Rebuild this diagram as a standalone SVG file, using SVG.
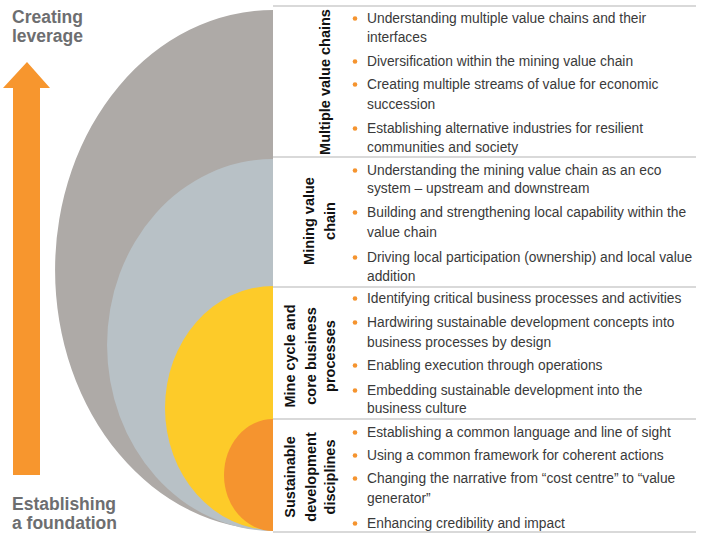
<svg xmlns="http://www.w3.org/2000/svg" width="704" height="533" viewBox="0 0 704 533">
<style>
.side{font-family:"Liberation Sans",Arial,sans-serif;font-weight:bold;font-size:17.5px;fill:#6d6e70}
.lab{font-family:"Liberation Sans",Arial,sans-serif;font-weight:bold;font-size:14.5px;fill:#111;text-anchor:middle}
.b{font-family:"Liberation Sans",Arial,sans-serif;font-size:13.8px;fill:#3a3a3a}
.dot{fill:#f5942f}
.sep{stroke:#d9d9d9;stroke-width:2;fill:none}
</style>
<rect width="704" height="533" fill="#ffffff"/>
<g id="arrow">
<polygon points="27,62 50,88 40,88 40,475 13,475 13,88 3,88" fill="#f7962e"/>
<text class="side" x="12" y="23">Creating</text>
<text class="side" x="12" y="42">leverage</text>
<text class="side" x="12" y="510">Establishing</text>
<text class="side" x="12" y="529">a foundation</text>
</g>
<g id="shapes">
<path d="M273 10 A218 260 0 0 0 273 530 Z" fill="#aeaaa7"/>
<path d="M273 159 A166 186 0 0 0 273 531 Z" fill="#b8c1c6"/>
<path d="M273 286 A108 122 0 0 0 273 530 Z" fill="#fdcb29"/>
<path d="M273 419 A49 56 0 0 0 273 531 Z" fill="#f5942f"/>
</g>
<g id="connectors">
<line class="sep" x1="273" y1="6" x2="696" y2="6"/>
<line class="sep" x1="273" y1="157" x2="696" y2="157"/>
<line class="sep" x1="273" y1="287" x2="696" y2="287"/>
<line class="sep" x1="273" y1="419" x2="696" y2="419"/>
<line class="sep" x1="273" y1="532" x2="696" y2="532"/>
</g>
<g id="node-multiple">
<text class="lab" transform="translate(330,82) rotate(-90)">Multiple value chains</text>
<circle class="dot" cx="355" cy="18.5" r="2.3"/>
<text class="b" x="367" y="23">Understanding multiple value chains and their</text>
<text class="b" x="367" y="42">interfaces</text>
<circle class="dot" cx="355" cy="61.5" r="2.3"/>
<text class="b" x="367" y="66">Diversification within the mining value chain</text>
<circle class="dot" cx="355" cy="84.5" r="2.3"/>
<text class="b" x="367" y="89">Creating multiple streams of value for economic</text>
<text class="b" x="367" y="109">succession</text>
<circle class="dot" cx="355" cy="128.5" r="2.3"/>
<text class="b" x="367" y="133">Establishing alternative industries for resilient</text>
<text class="b" x="367" y="152">communities and society</text>
</g>
<g id="node-mining">
<text class="lab" transform="translate(314,221) rotate(-90)">Mining value</text>
<text class="lab" transform="translate(335,221) rotate(-90)">chain</text>
<circle class="dot" cx="355" cy="170.5" r="2.3"/>
<text class="b" x="367" y="175">Understanding the mining value chain as an eco</text>
<text class="b" x="367" y="193">system – upstream and downstream</text>
<circle class="dot" cx="355" cy="212.5" r="2.3"/>
<text class="b" x="367" y="217">Building and strengthening local capability within the</text>
<text class="b" x="367" y="237">value chain</text>
<circle class="dot" cx="355" cy="257.5" r="2.3"/>
<text class="b" x="367" y="262">Driving local participation (ownership) and local value</text>
<text class="b" x="367" y="281">addition</text>
</g>
<g id="node-mine-cycle">
<text class="lab" transform="translate(295,356) rotate(-90)">Mine cycle and</text>
<text class="lab" transform="translate(316,356) rotate(-90)">core business</text>
<text class="lab" transform="translate(335,356) rotate(-90)">processes</text>
<circle class="dot" cx="355" cy="298.5" r="2.3"/>
<text class="b" x="367" y="303">Identifying critical business processes and activities</text>
<circle class="dot" cx="355" cy="322.5" r="2.3"/>
<text class="b" x="367" y="327">Hardwiring sustainable development concepts into</text>
<text class="b" x="367" y="347">business processes by design</text>
<circle class="dot" cx="355" cy="365.5" r="2.3"/>
<text class="b" x="367" y="370">Enabling execution through operations</text>
<circle class="dot" cx="355" cy="390.5" r="2.3"/>
<text class="b" x="367" y="395">Embedding sustainable development into the</text>
<text class="b" x="367" y="413">business culture</text>
</g>
<g id="node-sustainable">
<text class="lab" transform="translate(295,477) rotate(-90)">Sustainable</text>
<text class="lab" transform="translate(316,477) rotate(-90)">development</text>
<text class="lab" transform="translate(335,477) rotate(-90)">disciplines</text>
<circle class="dot" cx="355" cy="432.5" r="2.3"/>
<text class="b" x="367" y="437">Establishing a common language and line of sight</text>
<circle class="dot" cx="355" cy="455.5" r="2.3"/>
<text class="b" x="367" y="460">Using a common framework for coherent actions</text>
<circle class="dot" cx="355" cy="478.5" r="2.3"/>
<text class="b" x="367" y="483">Changing the narrative from “cost centre” to “value</text>
<text class="b" x="367" y="503">generator”</text>
<circle class="dot" cx="355" cy="523.5" r="2.3"/>
<text class="b" x="367" y="528">Enhancing credibility and impact</text>
</g>
</svg>
